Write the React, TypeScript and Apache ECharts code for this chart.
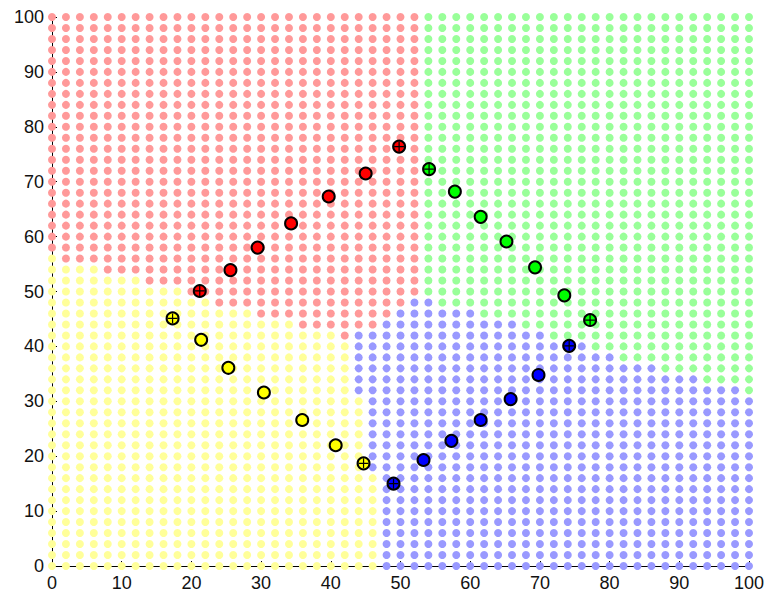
import React, { useEffect, useRef } from "react";
import * as echarts from "echarts";

// Sampling lattice of the decision map (same on both axes)
const LATTICE = [
  0, 2, 4, 6, 8, 10, 12, 14, 16, 18, 20, 22, 24, 26, 28, 30, 32, 34, 36, 38, 40,
  42, 44, 46, 48, 50, 52, 54, 56, 58, 60, 62, 64, 66, 68, 70, 72, 74, 76, 78, 80,
  82, 84, 86, 88, 90, 92, 94, 96, 98, 100,
];

// Class of each lattice row, from y = 100 down to y = 0, as runs of "count + class"
const REGION_ROWS = [
  "27R 24G", // 100
  "27R 24G", // 98
  "27R 24G", // 96
  "27R 24G", // 94
  "27R 24G", // 92
  "27R 24G", // 90
  "27R 24G", // 88
  "27R 24G", // 86
  "27R 24G", // 84
  "27R 24G", // 82
  "27R 24G", // 80
  "27R 24G", // 78
  "27R 24G", // 76
  "27R 24G", // 74
  "27R 24G", // 72
  "27R 24G", // 70
  "27R 24G", // 68
  "27R 24G", // 66
  "27R 24G", // 64
  "27R 24G", // 62
  "27R 24G", // 60
  "27R 24G", // 58
  "1Y 26R 24G", // 56
  "4Y 23R 24G", // 54
  "7Y 20R 24G", // 52
  "10Y 17R 24G", // 50
  "12Y 14R 2B 23G", // 48
  "15Y 10R 6B 20G", // 46
  "18Y 6R 10B 17G", // 44
  "21Y 1R 14B 15G", // 42
  "22Y 17B 12G", // 40
  "22Y 19B 10G", // 38
  "22Y 22B 7G", // 36
  "22Y 25B 4G", // 34
  "22Y 28B 1G", // 32
  "23Y 28B", // 30
  "23Y 28B", // 28
  "23Y 28B", // 26
  "23Y 28B", // 24
  "23Y 28B", // 22
  "23Y 28B", // 20
  "23Y 28B", // 18
  "24Y 27B", // 16
  "24Y 27B", // 14
  "24Y 27B", // 12
  "24Y 27B", // 10
  "24Y 27B", // 8
  "24Y 27B", // 6
  "24Y 27B", // 4
  "24Y 27B", // 2
  "24Y 27B", // 0
];

// Labelled samples of each class
const RED_X = [21.2, 25.6, 29.5, 34.3, 39.7, 45.0, 49.8];
const RED_Y = [50.1, 53.9, 58.0, 62.4, 67.3, 71.5, 76.4];
const GREEN_X = [54.1, 57.8, 61.5, 65.2, 69.3, 73.5, 77.2];
const GREEN_Y = [72.3, 68.2, 63.6, 59.1, 54.4, 49.3, 44.8];
const BLUE_X = [74.2, 69.8, 65.8, 61.5, 57.3, 53.3, 49.0];
const BLUE_Y = [40.1, 34.8, 30.4, 26.6, 22.8, 19.3, 15.0];
const YELLOW_X = [17.3, 21.4, 25.3, 30.4, 35.9, 40.7, 44.7];
const YELLOW_Y = [45.1, 41.2, 36.1, 31.6, 26.6, 22.0, 18.7];

// Samples drawn with a cross (first and last of each class)
const CROSSED = [0, 6];

const AXIS_TICKS = [0, 10, 20, 30, 40, 50, 60, 70, 80, 90, 100];

const CLASSES = [
  { key: "R", name: "red", light: "#ff9999", dark: "#ff0000", xs: RED_X, ys: RED_Y },
  { key: "G", name: "green", light: "#99ff99", dark: "#00ff00", xs: GREEN_X, ys: GREEN_Y },
  { key: "B", name: "blue", light: "#9999ff", dark: "#0000ff", xs: BLUE_X, ys: BLUE_Y },
  { key: "Y", name: "yellow", light: "#ffff99", dark: "#ffff00", xs: YELLOW_X, ys: YELLOW_Y },
];

function regionPoints(): Record<string, number[][]> {
  const out: Record<string, number[][]> = { R: [], G: [], B: [], Y: [] };
  const rowsTopDown = LATTICE.slice().reverse();
  REGION_ROWS.forEach((row, r) => {
    const y = rowsTopDown[r];
    let col = 0;
    row.split(" ").forEach((run) => {
      const count = parseInt(run, 10);
      const cls = run.slice(-1);
      for (let k = 0; k < count; k++) {
        out[cls].push([LATTICE[col], y]);
        col++;
      }
    });
  });
  return out;
}

const FONT = "Liberation Sans, Arial, sans-serif";

function buildOption() {
  const regions = regionPoints();
  const series: any[] = [];

  CLASSES.forEach((c) => {
    series.push({
      type: "scatter",
      name: c.name + " region",
      data: regions[c.key],
      symbol: "circle",
      symbolSize: 8,
      itemStyle: { color: c.light, opacity: 1 },
      silent: true,
      clip: false,
      z: 2,
    });
  });

  CLASSES.forEach((c) => {
    series.push({
      type: "scatter",
      name: c.name,
      data: c.xs.map((x, i) => [x, c.ys[i]]),
      symbol: "circle",
      symbolSize: 12,
      itemStyle: { color: c.dark, borderColor: "#000000", borderWidth: 2, opacity: 1 },
      silent: true,
      clip: false,
      z: 3,
    });
    series.push({
      type: "scatter",
      name: c.name + " cross",
      data: CROSSED.map((i) => [c.xs[i], c.ys[i]]),
      symbol: "path://M5,0L5,10M0,5L10,5",
      symbolSize: 10,
      itemStyle: { color: "none", borderColor: "#000000", borderWidth: 1.2, opacity: 1 },
      silent: true,
      clip: false,
      z: 4,
    });
  });

  const axisCommon = {
    type: "value" as const,
    min: AXIS_TICKS[0],
    max: AXIS_TICKS[AXIS_TICKS.length - 1],
    interval: AXIS_TICKS[1] - AXIS_TICKS[0],
    splitLine: { show: false },
    axisLine: { show: true, onZero: false, lineStyle: { color: "#000000", width: 1 } },
    axisTick: { show: true, inside: true, length: 5, lineStyle: { color: "#000000" } },
    axisLabel: { color: "#111111", fontSize: 18, fontFamily: FONT, margin: 8 },
  };

  return {
    animation: false,
    backgroundColor: "#ffffff",
    grid: {
      left: 52,
      right: 18,
      top: 17,
      bottom: 31,
      containLabel: false,
      outerBoundsMode: "none",
    },
    xAxis: { ...axisCommon },
    yAxis: { ...axisCommon },
    series,
  };
}

export default function App() {
  const ref = useRef<HTMLDivElement>(null);
  useEffect(() => {
    document.body.style.margin = "0";
    if (!ref.current) return;
    const chart = echarts.init(ref.current, null, { renderer: "svg" });
    chart.setOption(buildOption() as any);
    return () => chart.dispose();
  }, []);
  return <div ref={ref} style={{ width: 767, height: 597 }} />;
}
